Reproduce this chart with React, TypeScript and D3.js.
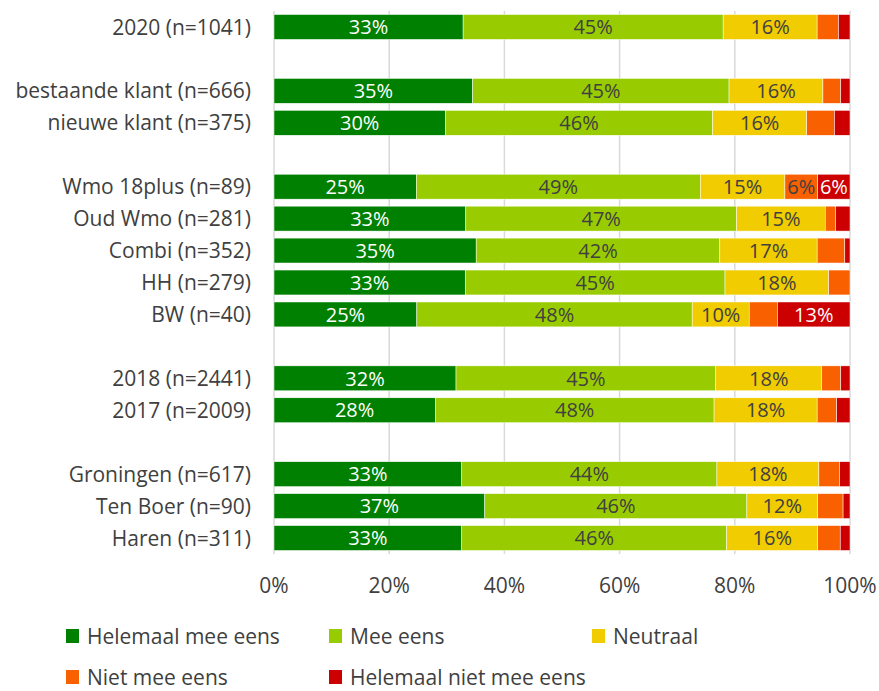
import React from "react";
import * as d3 from "d3";

const categories = [
  "2020 (n=1041)", "", "bestaande klant (n=666)", "nieuwe klant (n=375)", " ",
  "Wmo 18plus (n=89)", "Oud Wmo (n=281)", "Combi (n=352)", "HH (n=279)", "BW (n=40)", "  ",
  "2018 (n=2441)", "2017 (n=2009)", "   ",
  "Groningen (n=617)", "Ten Boer (n=90)", "Haren (n=311)",
];
const seriesNames = ["Helemaal mee eens", "Mee eens", "Neutraal", "Niet mee eens", "Helemaal niet mee eens"];
const helemaalEens = [32.8, 0, 34.5, 29.7, 0, 24.7, 33.3, 35.1, 33.2, 24.8, 0, 31.6, 28.0, 0, 32.6, 36.6, 32.6];
const meeEens = [45.1, 0, 44.5, 46.3, 0, 49.3, 47.0, 42.3, 45.1, 47.8, 0, 45.1, 48.4, 0, 44.3, 45.5, 46.0];
const neutraal = [16.3, 0, 16.3, 16.3, 0, 14.7, 15.4, 16.9, 18.0, 9.9, 0, 18.4, 17.9, 0, 17.7, 12.3, 15.8];
const nietEens = [3.7, 0, 3.1, 4.8, 0, 5.7, 1.8, 4.8, 3.7, 4.9, 0, 3.3, 3.4, 0, 3.6, 4.4, 3.9];
const helemaalNiet = [2.0, 0, 1.6, 2.7, 0, 5.6, 2.5, 0.9, 0, 12.6, 0, 1.6, 2.3, 0, 1.8, 1.2, 1.7];
const xTicks = [0, 20, 40, 60, 80, 100];

const colors = ["#008000", "#99cc00", "#f0cc00", "#f86000", "#cc0000"];
const labelColors = ["#ffffff", "#404040", "#404040", "#404040", "#ffffff"];
const FONT = "'Open Sans', Lato, sans-serif";

export default function App() {
  const width = 879, height = 691;
  const x = d3.scaleLinear().domain([0, 100]).range([274, 850]);
  const y = d3.scaleBand().domain(categories).range([11, 554]).paddingInner(0.22).paddingOuter(0.11);
  const series = [helemaalEens, meeEens, neutraal, nietEens, helemaalNiet];

  const rows = categories.map((c, i) => {
    const vals = series.map((s) => s[i]);
    const total = d3.sum(vals);
    let cum = 0;
    const segs = vals.map((v, k) => {
      const start = cum;
      cum += v;
      return { k, v, start, end: cum, total };
    });
    return { c, i, segs, total };
  });

  const legend = [
    { k: 0, x: 66, y: 636 },
    { k: 1, x: 329, y: 636 },
    { k: 2, x: 592, y: 636 },
    { k: 3, x: 66, y: 677 },
    { k: 4, x: 329, y: 677 },
  ];

  return (
    <svg width={width} height={height} style={{ position: "absolute", left: 0, top: 0 }} fontFamily={FONT}>
      <rect width={width} height={height} fill="#ffffff" />
      {xTicks.map((t) => (
        <line key={t} x1={x(t)} x2={x(t)} y1={11} y2={554} stroke="#d9d9d9" strokeWidth={1.5} />
      ))}
      {rows.map((r) =>
        r.total > 0 ? (
          <g key={r.i}>
            {r.segs.map((s) =>
              s.v > 0 ? (
                <rect
                  key={s.k}
                  x={x((s.start / r.total) * 100)}
                  width={x((s.end / r.total) * 100) - x((s.start / r.total) * 100)}
                  y={y(r.c)!}
                  height={y.bandwidth()}
                  fill={colors[s.k]}
                  stroke="#ffffff"
                  strokeWidth={0.5}
                />
              ) : null
            )}
            {r.segs.map((s) =>
              Math.round(s.v) >= 6 ? (
                <text
                  key={"l" + s.k}
                  x={(x((s.start / r.total) * 100) + x((s.end / r.total) * 100)) / 2}
                  y={y(r.c)! + y.bandwidth() / 2}
                  dy="0.36em"
                  textAnchor="middle"
                  fontSize={20}
                  fill={labelColors[s.k]}
                >
                  {Math.round(s.v)}%
                </text>
              ) : null
            )}
          </g>
        ) : null
      )}
      {categories.map((c, i) =>
        c.trim() ? (
          <text key={i} x={251} y={y(c)! + y.bandwidth() / 2} dy="0.36em" textAnchor="end" fontSize={21} fill="#404040">
            {c}
          </text>
        ) : null
      )}
      {xTicks.map((t) => (
        <text key={t} x={x(t)} y={585} dy="0.36em" textAnchor="middle" fontSize={21} fill="#404040">
          {t}%
        </text>
      ))}
      {legend.map((l) => (
        <g key={l.k}>
          <rect x={l.x} y={l.y - 7} width={13} height={14} fill={colors[l.k]} />
          <text x={l.x + 21} y={l.y} dy="0.36em" fontSize={21} fill="#404040">
            {seriesNames[l.k]}
          </text>
        </g>
      ))}
    </svg>
  );
}
